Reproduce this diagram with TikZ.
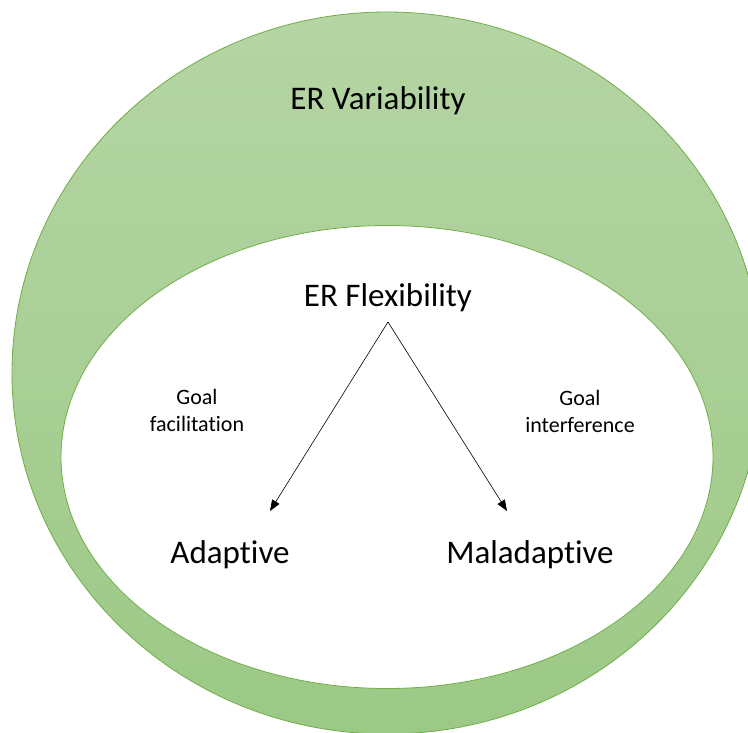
\documentclass[tikz,border=0pt]{standalone}
\usepackage{fontspec}
\setmainfont{Carlito}[Ligatures={NoCommon,NoContextual,NoRare,NoRequired}]
\usetikzlibrary{shapes.geometric,arrows.meta}
\definecolor{ergreen}{HTML}{70AD47}
\definecolor{ertop}{HTML}{B5D5A4}
\definecolor{erbottom}{HTML}{9CC986}
\begin{document}
\begin{tikzpicture}[x=1pt,y=-1pt,
        ring/.style={ellipse,draw=ergreen,line width=0.8pt,inner sep=0pt},
        bigtext/.style={font=\fontsize{33}{40}\selectfont,anchor=base},
        smalltext/.style={font=\fontsize{22}{27}\selectfont,align=center,anchor=north},
        link/.style={-{Triangle[length=11pt,width=8.5pt]},line width=0.6pt}]
    \clip (0,0) rectangle (748,733);
    \useasboundingbox (0,0) rectangle (748,733);
    \node[ring,top color=ertop,bottom color=erbottom,
        minimum width=750pt,minimum height=722pt] (variability) at (387,373) {};
    \node[ring,fill=white,
        minimum width=652pt,minimum height=463pt] (flexibility) at (387,457) {};
    \node[bigtext] (vartext) at (378,110) {ER Variability};
    \node[bigtext] (flextext) at (388,306) {ER Flexibility};
    \node[bigtext] (adaptive) at (230,563) {Adaptive};
    \node[bigtext] (maladaptive) at (530,563) {Maladaptive};
    \node[smalltext] (facilitation) at (197,386) {Goal\\facilitation};
    \node[smalltext] (interference) at (580,387) {Goal\\interference};
    \coordinate (apex) at (388,322);
    \coordinate (adaptivetip) at (270,511);
    \coordinate (maladaptivetip) at (507,511);
    \draw[link] (apex) -- (adaptivetip);
    \draw[link] (apex) -- (maladaptivetip);
\end{tikzpicture}
\end{document}
